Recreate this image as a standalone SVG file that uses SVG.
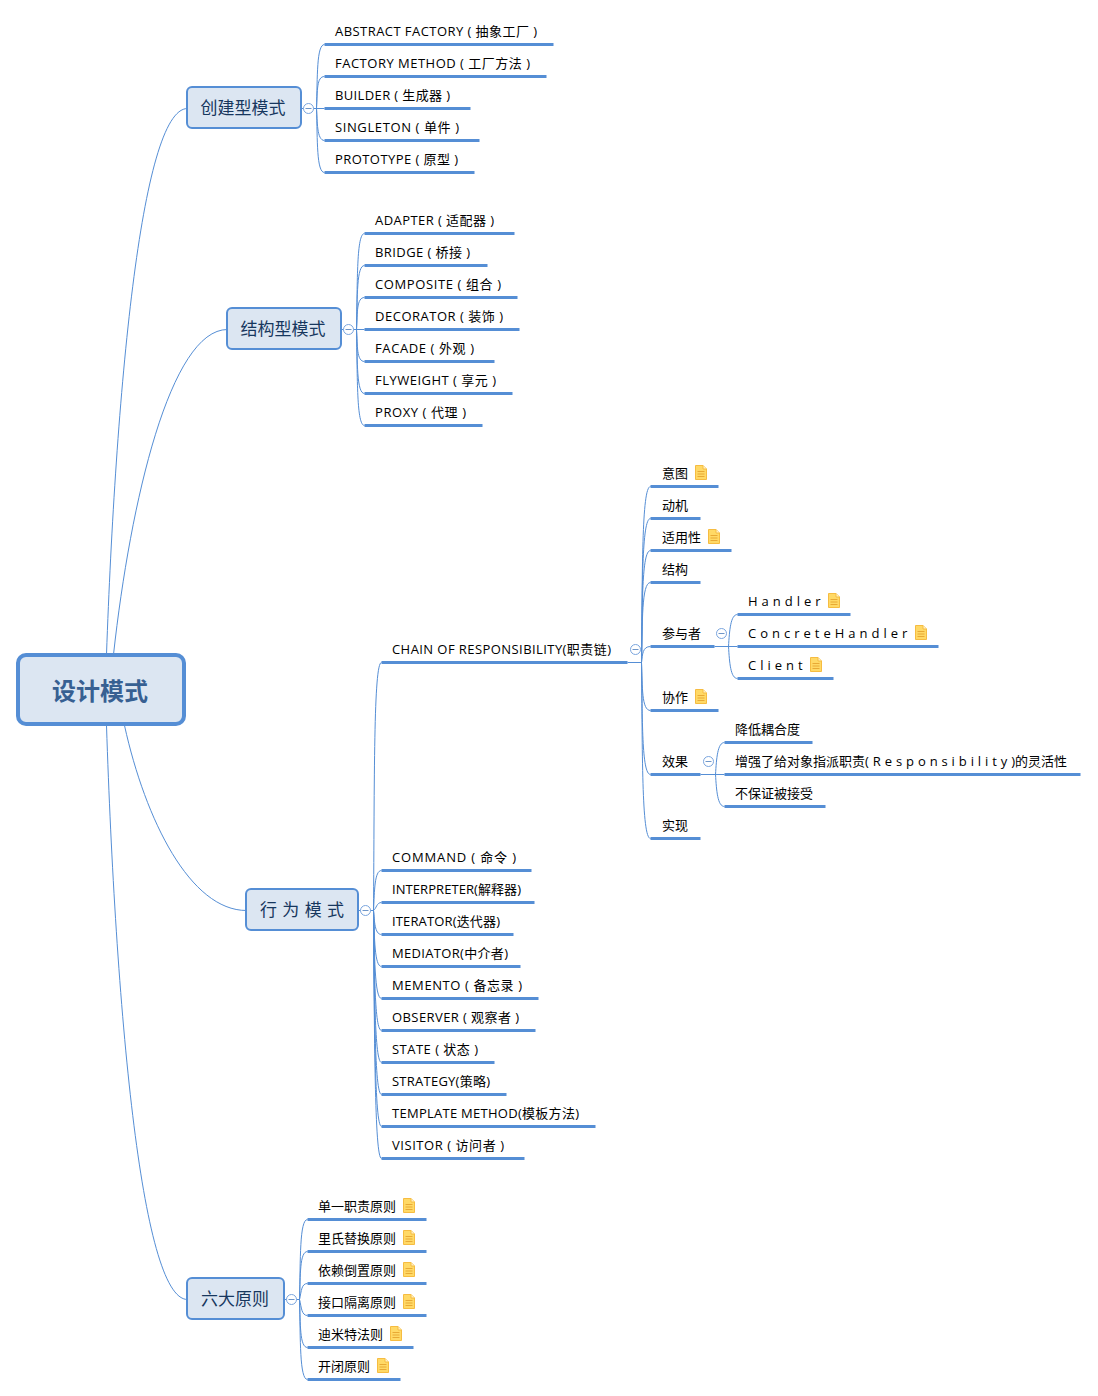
<svg xmlns="http://www.w3.org/2000/svg" xmlns:xlink="http://www.w3.org/1999/xlink" width="1098" height="1396" viewBox="0 0 1098 1396">
<style>
text{font-family:"Open Sans","Noto Sans CJK SC","Noto Sans",sans-serif;fill:#000;font-size:13px;transform:translateY(-.3px)}
.box{fill:#dce6f2;stroke:#558ed5;stroke-width:2}
.root{fill:#dce6f2;stroke:#558ed5;stroke-width:4}
.t1{font-size:17px;fill:#17375e;text-anchor:middle;transform:none}
.t0{font-size:24px;font-weight:700;fill:#376092;text-anchor:middle}
.ul{stroke:#558ed5;stroke-width:3;fill:none;transform:translate(.5px,.5px)}
.c{stroke:#558ed5;stroke-width:1;fill:none;transform:translate(.5px,.5px)}
.cr{fill:#fff;stroke:#7aa5de;stroke-width:1}
.mi{stroke:#6f96c8;stroke-width:1}
.sp{letter-spacing:4px}
</style>
<defs>
<g id="note">
<path d="M.5 .5H8L11.5 4V14.5H.5Z" fill="#ffd966" stroke="#f6bc41"/>
<path d="M8 .5V4H11.5" fill="#fff2cc" stroke="#f6bc41"/>
<path d="M2.5 6.5H9.5M2.5 9H9.5M2.5 11.5H9.5" stroke="#e8a935" stroke-width="1"/>
</g>
<g id="cl"><circle cx=".5" cy=".5" r="5" class="cr"/><path d="M-2.5 .5H3.5" class="mi"/></g>
</defs>
<g id="connectors">
<path class="c" d="M106 654C115 400 140 108 187 108"/>
<path class="c" d="M113 654C130 500 170 329 227 329"/>
<path class="c" d="M124 725C145 820 190 910 246 910"/>
<path class="c" d="M106 725C115 1000 140 1299 187 1299"/>

<path class="c" d="M301 108H324"/>
<path class="c" d="M316 108C317 76 316 44 324 44"/>
<path class="c" d="M316 108C317 90 316 76 324 76"/>
<path class="c" d="M316 108C317 120 316 140 324 140"/>
<path class="c" d="M316 108C317 140 316 172 324 172"/>

<path class="c" d="M341 329H364"/>
<path class="c" d="M356 329C357 280 356 233 364 233"/>
<path class="c" d="M356 329C357 295 356 265 364 265"/>
<path class="c" d="M356 329C357 312 356 297 364 297"/>
<path class="c" d="M356 329C357 345 356 361 364 361"/>
<path class="c" d="M356 329C357 362 356 393 364 393"/>
<path class="c" d="M356 329C357 378 356 425 364 425"/>

<path class="c" d="M358 910H373"/>
<path class="c" d="M373 910C374 780 373 662 381 662"/>
<path class="c" d="M373 910C374 890 374 870 381 870"/>
<path class="c" d="M373 910C376 908 376 902 381 902"/>
<path class="c" d="M373 910C374 920 374 934 381 934"/>
<path class="c" d="M373 910C374 938 374 966 381 966"/>
<path class="c" d="M373 910C374 954 374 998 381 998"/>
<path class="c" d="M373 910C374 970 374 1030 381 1030"/>
<path class="c" d="M373 910C374 986 374 1062 381 1062"/>
<path class="c" d="M373 910C374 1002 374 1094 381 1094"/>
<path class="c" d="M373 910C374 1018 374 1126 381 1126"/>
<path class="c" d="M373 910C374 1034 374 1158 381 1158"/>

<path class="c" d="M627 662H641"/>
<path class="c" d="M641 662C642 574 641 486 650 486"/>
<path class="c" d="M641 662C642 590 641 518 650 518"/>
<path class="c" d="M641 662C642 606 641 550 650 550"/>
<path class="c" d="M641 662C642 622 641 582 650 582"/>
<path class="c" d="M641 662C642 654 642 646 650 646"/>
<path class="c" d="M641 662C642 686 641 710 650 710"/>
<path class="c" d="M641 662C642 718 641 774 650 774"/>
<path class="c" d="M641 662C642 750 641 838 650 838"/>

<path class="c" d="M714 646H737"/>
<path class="c" d="M728 646C729 630 730 614 737 614"/>
<path class="c" d="M728 646C729 662 730 678 737 678"/>
<path class="c" d="M700 774H724"/>
<path class="c" d="M715 774C716 758 717 742 724 742"/>
<path class="c" d="M715 774C716 790 717 806 724 806"/>

<path class="c" d="M284 1299H299"/>
<path class="c" d="M299 1299C300 1259 299 1219 307 1219"/>
<path class="c" d="M299 1299C300 1275 299 1251 307 1251"/>
<path class="c" d="M299 1299C301 1290 301 1283 307 1283"/>
<path class="c" d="M299 1299C301 1307 301 1315 307 1315"/>
<path class="c" d="M299 1299C300 1323 299 1347 307 1347"/>
<path class="c" d="M299 1299C300 1339 299 1379 307 1379"/>
</g>

<g id="n-root"><rect class="root" x="18" y="655" width="166" height="69" rx="8"/><text class="t0" x="100" y="700">设计模式</text></g>

<g id="n-creational"><rect class="box" x="187" y="87" width="114" height="41" rx="5"/><text class="t1" x="243" y="114">创建型模式</text><use xlink:href="#cl" x="308" y="108"/></g>
<g id="n-structural"><rect class="box" x="227" y="308" width="114" height="41" rx="5"/><text class="t1" x="283" y="335">结构型模式</text><use xlink:href="#cl" x="348" y="329"/></g>
<g id="n-behavioral"><rect class="box" x="246" y="889" width="112" height="41" rx="5"/><text class="t1" x="302" y="916" textLength="84">行 为 模 式</text><use xlink:href="#cl" x="365" y="910"/></g>
<g id="n-principles"><rect class="box" x="187" y="1278" width="97" height="41" rx="5"/><text class="t1" x="235" y="1305">六大原则</text><use xlink:href="#cl" x="291" y="1299"/></g>

<g id="n-c1"><path class="ul" d="M324 44H553"/><text x="335" y="36" textLength="202">ABSTRACT FACTORY ( 抽象工厂 )</text></g>
<g id="n-c2"><path class="ul" d="M324 76H546"/><text x="335" y="68" textLength="195">FACTORY METHOD ( 工厂方法 )</text></g>
<g id="n-c3"><path class="ul" d="M324 108H470"/><text x="335" y="100" textLength="115">BUILDER ( 生成器 )</text></g>
<g id="n-c4"><path class="ul" d="M324 140H479"/><text x="335" y="132" textLength="124">SINGLETON ( 单件 )</text></g>
<g id="n-c5"><path class="ul" d="M324 172H474"/><text x="335" y="164" textLength="123">PROTOTYPE ( 原型 )</text></g>

<g id="n-s1"><path class="ul" d="M364 233H514"/><text x="375" y="225" textLength="119">ADAPTER ( 适配器 )</text></g>
<g id="n-s2"><path class="ul" d="M364 265H487"/><text x="375" y="257" textLength="95">BRIDGE ( 桥接 )</text></g>
<g id="n-s3"><path class="ul" d="M364 297H517"/><text x="375" y="289" textLength="126">COMPOSITE ( 组合 )</text></g>
<g id="n-s4"><path class="ul" d="M364 329H519"/><text x="375" y="321" textLength="128">DECORATOR ( 装饰 )</text></g>
<g id="n-s5"><path class="ul" d="M364 361H494"/><text x="375" y="353" textLength="99">FACADE ( 外观 )</text></g>
<g id="n-s6"><path class="ul" d="M364 393H512"/><text x="375" y="385" textLength="121">FLYWEIGHT ( 享元 )</text></g>
<g id="n-s7"><path class="ul" d="M364 425H482"/><text x="375" y="417" textLength="91">PROXY ( 代理 )</text></g>

<g id="n-b1"><path class="ul" d="M381 662H627"/><text x="392" y="654" textLength="219">CHAIN OF RESPONSIBILITY(职责链)</text><use xlink:href="#cl" x="635" y="649"/></g>
<g id="n-b2"><path class="ul" d="M381 870H531"/><text x="392" y="862" textLength="124">COMMAND ( 命令 )</text></g>
<g id="n-b3"><path class="ul" d="M381 902H534"/><text x="392" y="894" textLength="129">INTERPRETER(解释器)</text></g>
<g id="n-b4"><path class="ul" d="M381 934H513"/><text x="392" y="926" textLength="108">ITERATOR(迭代器)</text></g>
<g id="n-b5"><path class="ul" d="M381 966H520"/><text x="392" y="958" textLength="116">MEDIATOR(中介者)</text></g>
<g id="n-b6"><path class="ul" d="M381 998H538"/><text x="392" y="990" textLength="130">MEMENTO ( 备忘录 )</text></g>
<g id="n-b7"><path class="ul" d="M381 1030H535"/><text x="392" y="1022" textLength="127">OBSERVER ( 观察者 )</text></g>
<g id="n-b8"><path class="ul" d="M381 1062H494"/><text x="392" y="1054" textLength="86">STATE ( 状态 )</text></g>
<g id="n-b9"><path class="ul" d="M381 1094H506"/><text x="392" y="1086" textLength="98">STRATEGY(策略)</text></g>
<g id="n-b10"><path class="ul" d="M381 1126H595"/><text x="392" y="1118" textLength="187">TEMPLATE METHOD(模板方法)</text></g>
<g id="n-b11"><path class="ul" d="M381 1158H524"/><text x="392" y="1150" textLength="112">VISITOR ( 访问者 )</text></g>

<g id="n-r1"><path class="ul" d="M650 486H718"/><text x="662" y="478">意图</text><use xlink:href="#note" x="695" y="465"/></g>
<g id="n-r2"><path class="ul" d="M650 518H700"/><text x="662" y="510">动机</text></g>
<g id="n-r3"><path class="ul" d="M650 550H731"/><text x="662" y="542">适用性</text><use xlink:href="#note" x="708" y="529"/></g>
<g id="n-r4"><path class="ul" d="M650 582H700"/><text x="662" y="574">结构</text></g>
<g id="n-r5"><path class="ul" d="M650 646H714"/><text x="662" y="638">参与者</text><use xlink:href="#cl" x="721" y="633"/></g>
<g id="n-r6"><path class="ul" d="M650 710H718"/><text x="662" y="702">协作</text><use xlink:href="#note" x="695" y="689"/></g>
<g id="n-r7"><path class="ul" d="M650 774H700"/><text x="662" y="766">效果</text><use xlink:href="#cl" x="708" y="761"/></g>
<g id="n-r8"><path class="ul" d="M650 838H700"/><text x="662" y="830">实现</text></g>

<g id="n-p1"><path class="ul" d="M737 614H850"/><text class="sp" x="748" y="606">Handler</text><use xlink:href="#note" x="828" y="593"/></g>
<g id="n-p2"><path class="ul" d="M737 646H938"/><text class="sp" x="748" y="638">ConcreteHandler</text><use xlink:href="#note" x="915" y="625"/></g>
<g id="n-p3"><path class="ul" d="M737 678H833"/><text class="sp" x="748" y="670">Client</text><use xlink:href="#note" x="810" y="657"/></g>

<g id="n-e1"><path class="ul" d="M724 742H812"/><text x="735" y="734">降低耦合度</text></g>
<g id="n-e2"><path class="ul" d="M724 774H1080"/><text x="735" y="766">增强了给对象指派职责(<tspan class="sp" dx="4" style="letter-spacing:3.9px">Responsibility</tspan>)的灵活性</text></g>
<g id="n-e3"><path class="ul" d="M724 806H825"/><text x="735" y="798">不保证被接受</text></g>

<g id="n-q1"><path class="ul" d="M307 1219H426"/><text x="318" y="1211">单一职责原则</text><use xlink:href="#note" x="403" y="1198"/></g>
<g id="n-q2"><path class="ul" d="M307 1251H426"/><text x="318" y="1243">里氏替换原则</text><use xlink:href="#note" x="403" y="1230"/></g>
<g id="n-q3"><path class="ul" d="M307 1283H426"/><text x="318" y="1275">依赖倒置原则</text><use xlink:href="#note" x="403" y="1262"/></g>
<g id="n-q4"><path class="ul" d="M307 1315H426"/><text x="318" y="1307">接口隔离原则</text><use xlink:href="#note" x="403" y="1294"/></g>
<g id="n-q5"><path class="ul" d="M307 1347H413"/><text x="318" y="1339">迪米特法则</text><use xlink:href="#note" x="390" y="1326"/></g>
<g id="n-q6"><path class="ul" d="M307 1379H400"/><text x="318" y="1371">开闭原则</text><use xlink:href="#note" x="377" y="1358"/></g>
</svg>
